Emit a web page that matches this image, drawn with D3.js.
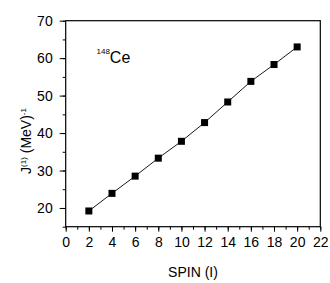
<!DOCTYPE html>
<html>
<head>
<meta charset="utf-8">
<script src="https://cdn.jsdelivr.net/npm/d3@7"></script>
<style>
  body { margin: 0; background: #fff; }
  text { font-family: "Liberation Sans", Arial, sans-serif; }
</style>
</head>
<body>
<svg width="330" height="283"></svg>
<script>
const spin = [2, 4, 6, 8, 10, 12, 14, 16, 18, 20]
const j1 = [19.2, 23.9, 28.5, 33.3, 37.8, 42.8, 48.3, 53.8, 58.3, 63.0]
const xTicks = [0, 2, 4, 6, 8, 10, 12, 14, 16, 18, 20, 22]
const yTicks = [20, 30, 40, 50, 60, 70]

const svg = d3.select("svg")
const x = d3.scaleLinear().domain([0, 22]).range([65.7, 320.3])
const y = d3.scaleLinear().domain([15, 70]).range([226.7, 20.7])

// minor ticks first
svg.append("g")
  .attr("transform", "translate(0," + y.range()[0] + ")")
  .call(d3.axisBottom(x).tickValues(d3.range(0, 23, 1)).tickSize(3).tickFormat(""))
svg.append("g")
  .attr("transform", "translate(" + x.range()[0] + ",0)")
  .call(d3.axisLeft(y).tickValues(d3.range(15, 71, 5)).tickSize(3).tickFormat(""))

const xAxis = svg.append("g")
  .attr("transform", "translate(0," + y.range()[0] + ")")
  .call(d3.axisBottom(x).tickValues(xTicks).tickSize(5).tickPadding(5).tickFormat(d3.format("d")))
const yAxis = svg.append("g")
  .attr("transform", "translate(" + x.range()[0] + ",0)")
  .call(d3.axisLeft(y).tickValues(yTicks).tickSize(6).tickPadding(7).tickFormat(d3.format("d")))

svg.selectAll(".domain").remove()
svg.selectAll(".tick line").attr("stroke", "#000")
svg.selectAll(".tick text")
  .attr("fill", "#000")
  .style("font-size", "14px")
  .style("font-family", "'Liberation Sans', Arial, sans-serif")

// frame
svg.append("rect")
  .attr("x", x.range()[0])
  .attr("y", y.range()[1])
  .attr("width", x.range()[1] - x.range()[0])
  .attr("height", y.range()[0] - y.range()[1])
  .attr("fill", "none")
  .attr("stroke", "#000")
  .attr("stroke-width", 1.2)

const pts = spin.map((s, i) => ({ s: s, v: j1[i] }))

svg.append("path")
  .datum(pts)
  .attr("fill", "none")
  .attr("stroke", "#000")
  .attr("stroke-width", 0.9)
  .attr("d", d3.line().x(d => x(d.s)).y(d => y(d.v)))

svg.selectAll(".pt")
  .data(pts)
  .enter()
  .append("rect")
  .attr("x", d => x(d.s) - 3.5)
  .attr("y", d => y(d.v) - 3.5)
  .attr("width", 7)
  .attr("height", 7)
  .attr("fill", "#000")

// axis titles
svg.append("text")
  .attr("x", (x.range()[0] + x.range()[1]) / 2)
  .attr("y", 277)
  .attr("text-anchor", "middle")
  .style("font-size", "14px")
  .text("SPIN (I)")

const yl = svg.append("text")
  .attr("transform", "translate(31,141) rotate(-90)")
  .attr("text-anchor", "middle")
  .style("font-size", "14px")
yl.append("tspan").text("J")
yl.append("tspan").attr("dy", -5).style("font-size", "8px").text("(1)")
yl.append("tspan").attr("dy", 5).text(" (MeV)")
yl.append("tspan").attr("dy", -5).style("font-size", "8px").text("-1")

const lab = svg.append("text")
  .attr("x", 96.5)
  .attr("y", 63)
yl.attr("fill", "#000")
lab.append("tspan").attr("dy", -9).style("font-size", "8px").text("148")
lab.append("tspan").attr("dy", 9).style("font-size", "16px").text("Ce")
</script>
</body>
</html>
